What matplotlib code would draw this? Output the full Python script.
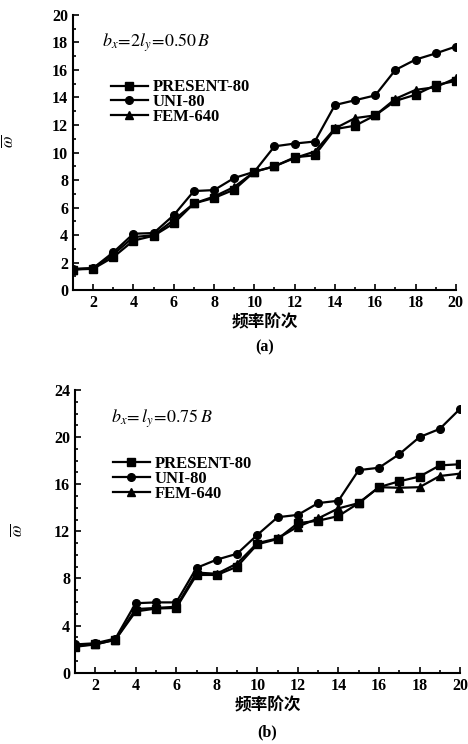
import numpy as np
import matplotlib
matplotlib.use('Agg')
import matplotlib.pyplot as plt
from matplotlib.ticker import MultipleLocator

plt.rcParams['font.family'] = ['Liberation Serif', 'Noto Sans CJK SC']
plt.rcParams['mathtext.fontset'] = 'stix'

order = np.arange(1, 21)

# (a) bx = 2ly = 0.50B
a_present = [1.5, 1.55, 2.4, 3.6, 3.95, 4.85, 6.3, 6.7, 7.3, 8.6,
             9.0, 9.65, 9.8, 11.7, 11.95, 12.7, 13.75, 14.2, 14.9, 15.2]
a_uni = [1.55, 1.6, 2.75, 4.1, 4.15, 5.45, 7.2, 7.27, 8.15, 8.6,
         10.45, 10.65, 10.8, 13.45, 13.8, 14.15, 16.0, 16.75, 17.2, 17.7]
a_fem = [1.5, 1.6, 2.6, 3.85, 4.0, 5.1, 6.3, 6.8, 7.5, 8.6,
         9.0, 9.6, 10.07, 11.75, 12.5, 12.7, 13.9, 14.55, 14.75, 15.4]

# (b) bx = ly = 0.75B
b_present = [2.2, 2.4, 2.8, 5.2, 5.45, 5.5, 8.3, 8.3, 9.0, 10.9,
             11.35, 12.7, 12.9, 13.3, 14.4, 15.75, 16.25, 16.65, 17.6, 17.7]
b_uni = [2.4, 2.5, 2.9, 5.9, 5.97, 5.97, 8.9, 9.6, 10.1, 11.7,
         13.2, 13.4, 14.4, 14.6, 17.2, 17.4, 18.55, 20.0, 20.7, 22.4]
b_fem = [2.3, 2.4, 2.8, 5.4, 5.5, 5.6, 8.5, 8.4, 9.27, 11.0,
         11.4, 12.4, 13.1, 13.95, 14.4, 15.75, 15.7, 15.75, 16.7, 16.9]

labels = ['PRESENT-80', 'UNI-80', 'FEM-640']
markers = ['s', 'o', '^']

fig = plt.figure(figsize=(4.68, 7.44), dpi=100)
ax1 = fig.add_axes([0.156, 0.610, 0.818, 0.370])
ax2 = fig.add_axes([0.160, 0.0958, 0.823, 0.380])

def draw(ax, series, ymax, ymajor, note, note_x, tag, tag_y, ylab_xy):
    for ys, m, lab in zip(series, markers, labels):
        ax.plot(order, ys, '-', color='k', marker=m, ms=5.5, lw=1.6, label=lab)
    ax.set_xlim(1, 20)
    ax.set_ylim(0, ymax)
    ax.xaxis.set_major_locator(MultipleLocator(2))
    ax.xaxis.set_minor_locator(MultipleLocator(1))
    ax.yaxis.set_major_locator(MultipleLocator(ymajor))
    ax.yaxis.set_minor_locator(MultipleLocator(1))
    ax.tick_params(which='both', direction='in', labelsize=11.5, width=1.2)
    ax.tick_params(which='major', length=4)
    ax.tick_params(which='minor', length=2)
    for lb in ax.get_xticklabels() + ax.get_yticklabels():
        lb.set_fontweight('bold')
    ax.spines['top'].set_visible(False)
    ax.spines['right'].set_visible(False)
    for s in ['left', 'bottom']:
        ax.spines[s].set_linewidth(1.5)
    ax.set_ylabel(r'$\overline{\omega}$', fontsize=12)
    ax.yaxis.set_label_coords(*ylab_xy)
    ax.set_xlabel('频率阶次', fontsize=12, fontweight='bold',
                  family=['Noto Sans CJK SC'], labelpad=2)
    ax.text(0.5, tag_y, tag, transform=ax.transAxes, ha='center', va='center',
            fontsize=11.5, fontweight='bold')
    ax.text(note_x, 0.90, note, transform=ax.transAxes, fontsize=13,
            ha='left', va='center')
    ax.legend(loc='upper left', bbox_to_anchor=(0.06, 0.82), frameon=False,
              handlelength=2.2, handletextpad=0.3, labelspacing=-0.07,
              prop={'family': 'Liberation Serif', 'weight': 'bold', 'size': 12})

draw(ax1, [a_present, a_uni, a_fem], 20, 2,
     r'$b_x\!=\!2l_y\!=\!0.50\,B$', 0.075, '(a)', -0.207, (-0.146, 0.54))
draw(ax2, [b_present, b_uni, b_fem], 24, 4,
     r'$b_x\!=l_y\!=\!0.75\,B$', 0.095, '(b)', -0.21, (-0.127, 0.505))

plt.savefig('out.png', dpi=100)
